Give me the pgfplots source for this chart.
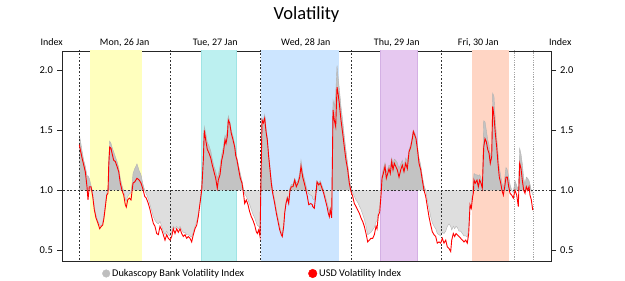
\documentclass[border=0pt]{standalone}
\usepackage{pgfplots}
\pgfplotsset{compat=1.18}
\usepackage{pgfplotstable}
\usepackage{fontspec}
\setmainfont{Carlito}
\definecolor{bandY}{RGB}{255,255,190}
\definecolor{bandC}{RGB}{188,240,240}
\definecolor{bandCb}{RGB}{160,228,228}
\definecolor{bandB}{RGB}{204,229,255}
\definecolor{bandP}{RGB}{230,200,240}
\definecolor{bandPb}{RGB}{212,176,228}
\definecolor{bandO}{RGB}{255,213,196}
\definecolor{gdark}{RGB}{195,195,195}
\definecolor{glight}{RGB}{222,222,222}
\definecolor{gline}{RGB}{178,178,178}
\definecolor{gdot}{RGB}{165,165,165}
\definecolor{legg}{RGB}{190,190,190}
\pgfplotstableread{
h r g
0.00 1.38 1.46
0.26 1.34 1.42
0.72 1.27 1.33
1.17 1.21 1.25
1.59 1.155 1.20
2.04 1.03 1.12
2.30 0.92 1.12
2.65 1.03 1.10
3.10 1.03 1.04
3.55 0.95 0.97
3.97 0.84 0.86
4.42 0.77 0.79
4.95 0.725 0.74
5.40 0.68 0.71
5.83 0.70 0.70
6.20 0.71 0.73
6.54 0.77 0.79
6.89 0.86 0.88
7.26 0.96 0.97
7.60 0.975 1.02
7.79 1.20 1.25
8.05 1.36 1.41
8.40 1.35 1.39
8.66 1.31 1.36
9.11 1.25 1.32
9.54 1.24 1.28
9.99 1.20 1.24
10.44 1.155 1.19
10.86 1.06 1.10
11.31 1.00 1.04
11.76 0.96 0.99
12.19 0.88 0.93
12.45 0.86 0.91
12.82 0.92 0.95
13.25 0.935 0.97
13.70 0.92 0.98
13.96 0.99 1.05
14.23 1.06 1.14
14.68 1.07 1.18
15.28 1.10 1.22
15.89 1.085 1.16
16.34 1.06 1.13
16.79 1.017 1.06
17.32 0.95 1.00
17.75 0.935 0.97
18.28 0.89 0.93
18.73 0.84 0.88
19.18 0.78 0.83
19.60 0.725 0.78
20.05 0.70 0.75
20.50 0.64 0.73
20.93 0.63 0.72
21.38 0.70 0.74
21.83 0.67 0.70
22.25 0.63 0.66
22.70 0.585 0.63
23.15 0.63 0.66
23.58 0.60 0.63
24.03 0.585 0.62
24.48 0.615 0.65
24.90 0.68 0.70
25.35 0.64 0.68
25.80 0.68 0.70
26.23 0.65 0.68
26.68 0.68 0.70
27.13 0.64 0.67
27.55 0.615 0.65
28.00 0.63 0.65
28.45 0.60 0.63
28.87 0.615 0.63
29.32 0.60 0.62
29.77 0.57 0.61
30.20 0.63 0.65
30.65 0.68 0.70
31.10 0.71 0.74
31.52 0.78 0.80
31.97 0.89 0.90
32.42 1.00 1.02
32.85 1.25 1.30
33.11 1.50 1.53
33.48 1.42 1.48
33.91 1.34 1.40
34.36 1.31 1.37
34.81 1.27 1.33
35.23 1.21 1.26
35.68 1.155 1.20
36.13 1.10 1.16
36.56 1.017 1.10
36.82 1.085 1.13
37.27 1.13 1.20
37.72 1.25 1.30
38.15 1.31 1.36
38.60 1.42 1.46
38.86 1.39 1.44
39.21 1.45 1.50
39.47 1.585 1.62
39.84 1.56 1.58
40.26 1.475 1.50
40.72 1.42 1.45
41.17 1.36 1.38
41.43 1.29 1.33
41.78 1.25 1.27
42.23 1.17 1.20
42.65 1.10 1.14
43.10 1.06 1.08
43.55 0.96 1.00
43.81 0.89 0.97
44.24 0.92 0.95
44.69 0.88 0.92
45.14 0.82 0.88
45.56 0.78 0.84
46.01 0.75 0.80
46.46 0.71 0.77
46.89 0.655 0.73
47.15 0.64 0.71
47.52 0.67 0.70
47.87 0.615 0.68
48.21 1.225 1.25
48.40 1.585 1.60
48.74 1.56 1.58
49.11 1.60 1.63
49.46 1.49 1.52
49.80 1.42 1.44
50.17 1.28 1.30
50.52 1.17 1.19
50.86 1.06 1.09
51.23 0.975 1.00
51.76 0.89 0.92
52.19 0.81 0.84
52.64 0.74 0.77
53.09 0.67 0.70
53.51 0.63 0.65
53.77 0.615 0.63
54.15 0.70 0.72
54.41 0.81 0.82
54.75 0.89 0.90
55.10 0.935 0.95
55.47 0.89 0.92
55.81 1.00 1.02
56.16 1.03 1.05
56.61 1.03 1.05
57.06 1.085 1.10
57.48 1.03 1.06
57.93 1.06 1.08
58.38 1.11 1.14
58.73 1.20 1.25
59.18 1.11 1.15
59.60 1.06 1.10
60.05 1.00 1.04
60.40 0.95 1.00
60.77 0.88 0.97
61.30 0.89 0.96
61.72 0.88 0.95
61.83 0.865 0.93
62.25 0.85 0.92
62.70 0.975 1.00
62.97 1.07 1.08
63.42 1.045 1.06
63.84 1.06 1.08
64.29 1.017 1.04
64.74 0.975 1.00
65.17 0.92 0.95
65.62 0.865 0.90
65.96 0.81 0.86
66.23 0.78 0.82
66.49 0.835 0.86
66.86 0.77 0.80
67.21 1.67 1.75
67.55 1.585 1.70
67.92 1.53 1.80
68.27 1.86 2.04
68.53 1.81 1.95
68.87 1.725 1.85
69.32 1.585 1.70
69.77 1.475 1.58
70.20 1.36 1.45
70.65 1.25 1.33
71.10 1.17 1.22
71.52 1.06 1.10
71.97 0.99 1.02
72.42 0.95 0.98
72.85 0.89 0.95
73.30 0.865 0.92
73.75 0.835 0.90
74.17 0.81 0.87
74.62 0.77 0.84
75.07 0.74 0.80
75.50 0.70 0.76
75.95 0.64 0.70
76.40 0.57 0.63
76.82 0.585 0.64
77.27 0.60 0.65
77.72 0.60 0.67
78.15 0.63 0.69
78.60 0.70 0.74
78.86 0.68 0.74
79.21 0.79 0.82
79.58 0.82 0.86
79.92 0.96 0.98
80.19 1.10 1.13
80.53 1.14 1.18
80.98 1.20 1.23
81.33 1.10 1.15
81.69 1.14 1.18
82.04 1.18 1.21
82.38 1.14 1.20
82.75 1.24 1.27
83.10 1.17 1.22
83.44 1.225 1.26
83.81 1.20 1.25
84.24 1.17 1.23
84.69 1.11 1.18
85.14 1.17 1.22
85.56 1.21 1.25
86.01 1.155 1.20
86.46 1.225 1.27
86.89 1.18 1.24
87.34 1.32 1.34
87.79 1.36 1.38
88.21 1.43 1.45
88.48 1.49 1.50
88.85 1.46 1.48
89.19 1.43 1.45
89.54 1.35 1.38
89.99 1.225 1.27
90.44 1.17 1.21
90.86 1.085 1.12
91.31 1.00 1.04
91.76 0.95 1.00
92.19 0.865 0.92
92.63 0.78 0.85
93.09 0.71 0.78
93.51 0.655 0.73
93.96 0.63 0.70
94.41 0.615 0.68
94.83 0.56 0.64
95.28 0.57 0.63
95.73 0.56 0.62
96.16 0.60 0.65
96.61 0.56 0.64
97.06 0.585 0.66
97.48 0.53 0.70
97.93 0.515 0.72
98.38 0.49 0.70
98.65 0.585 0.67
99.07 0.64 0.70
99.44 0.615 0.68
99.79 0.64 0.70
100.13 0.63 0.69
100.58 0.615 0.66
101.03 0.60 0.66
101.46 0.585 0.64
101.91 0.57 0.62
102.36 0.585 0.62
102.78 0.56 0.61
103.15 0.64 0.68
103.50 0.88 0.86
103.84 0.85 0.88
104.21 0.95 1.00
104.37 0.975 1.08
104.56 1.085 1.14
104.90 1.06 1.13
105.35 1.085 1.13
105.70 1.03 1.12
106.07 1.085 1.13
106.41 1.06 1.10
106.75 1.017 1.06
107.13 1.36 1.58
107.47 1.43 1.57
107.82 1.405 1.50
108.19 1.34 1.42
108.53 1.31 1.38
108.87 1.225 1.27
109.24 1.28 1.35
109.51 1.70 1.81
109.85 1.615 1.78
110.20 1.475 1.58
110.57 1.36 1.44
110.91 1.225 1.32
111.26 1.11 1.19
111.63 1.06 1.12
111.97 1.00 1.06
112.32 0.96 1.02
112.69 1.03 1.10
113.03 1.11 1.19
113.38 1.11 1.17
113.75 1.03 1.11
114.09 0.975 1.05
114.54 0.96 1.00
114.97 0.935 0.98
115.42 1.00 1.08
115.87 0.96 1.04
116.29 0.865 1.00
116.66 1.225 1.35
117.01 1.18 1.30
117.35 1.085 1.22
117.72 1.00 1.10
118.07 0.975 1.05
118.41 1.03 1.11
118.78 1.00 1.10
119.13 1.03 1.08
119.39 0.96 1.05
119.74 0.92 1.00
120.11 0.835 0.96
}\voldata
\begin{document}
\begin{tikzpicture}
\path[use as bounding box] (0,0) rectangle (625pt,281pt);
\begin{axis}[
  scale only axis,
  width=489pt, height=210pt,
  at={(62pt,20pt)}, anchor=south west,
  xmin=-4.583, xmax=124.95,
  ymin=0.411, ymax=2.161,
  xtick=\empty,
  ytick={0.5,1.0,1.5,2.0},
  ytick pos=left,
  tick align=outside,
  major tick length=5pt,
  yticklabel style={font=\fontsize{10.5}{12}\selectfont, xshift=-0.5pt},
  /pgf/number format/.cd, fixed, fixed zerofill, precision=1, assume math mode=true,
  /pgfplots/.cd,
  axis line style={black!85, line width=0.9pt},
  every tick/.style={black!85, line width=0.6pt},
  legend style={draw=none, fill=none, at={(axis description cs:0,0)}, anchor=west,
    xshift=40pt, yshift=-12.5pt, legend columns=2, inner sep=0pt,
    font=\fontsize{10.3}{12}\selectfont,
    /tikz/column 2/.style={column sep=62pt}},
  legend cell align=left,
]
\addlegendimage{legend image code/.code={\fill[legg] (4pt,0pt) circle (3.8pt);}}
\addlegendentry{Dukascopy Bank Volatility Index}
\addlegendimage{legend image code/.code={\fill[red] (4pt,0pt) circle (4.3pt);}}
\addlegendentry{USD Volatility Index}
% sessions
\addplot[fill=bandY, draw=none, forget plot] coordinates {(2.83,0.3) (16.53,0.3) (16.53,2.3) (2.83,2.3)} -- cycle;
\addplot[fill=bandC, draw=bandCb, line width=0.5pt, forget plot] coordinates {(32.24,0.3) (41.70,0.3) (41.70,2.3) (32.24,2.3)} -- cycle;
\addplot[fill=bandB, draw=none, forget plot] coordinates {(48.13,0.3) (68.87,0.3) (68.87,2.3) (48.13,2.3)} -- cycle;
\addplot[fill=bandP, draw=bandPb, line width=0.5pt, forget plot] coordinates {(79.60,0.3) (89.45,0.3) (89.45,2.3) (79.60,2.3)} -- cycle;
\addplot[fill=bandO, draw=none, forget plot] coordinates {(104.0,0.3) (113.75,0.3) (113.75,2.3) (104.0,2.3)} -- cycle;
% gray index area: above and below the 1.0 level
\addplot[fill=gdark, draw=none, forget plot] table[x=h, y expr={max(\thisrow{g},1)}] {\voldata} -- (axis cs:120.11,1) -- (axis cs:0,1) -- cycle;
\addplot[fill=glight, draw=none, forget plot] table[x=h, y expr={min(\thisrow{g},1)}] {\voldata} -- (axis cs:120.11,1) -- (axis cs:0,1) -- cycle;
\addplot[gline, line width=0.4pt, forget plot] table[x=h, y=g] {\voldata};
% reference lines
\addplot[black!80, dash pattern=on 1.8pt off 1.8pt, line width=0.5pt, forget plot] coordinates {(-10,1) (130,1)};
\addplot[black!80, dash pattern=on 1.8pt off 1.8pt, line width=0.5pt, forget plot] coordinates {(0,0.3) (0,2.3)};
\addplot[black!80, dash pattern=on 1.8pt off 1.8pt, line width=0.5pt, forget plot] coordinates {(24,0.3) (24,2.3)};
\addplot[black!80, dash pattern=on 1.8pt off 1.8pt, line width=0.5pt, forget plot] coordinates {(48,0.3) (48,2.3)};
\addplot[black!80, dash pattern=on 1.8pt off 1.8pt, line width=0.5pt, forget plot] coordinates {(72,0.3) (72,2.3)};
\addplot[black!80, dash pattern=on 1.8pt off 1.8pt, line width=0.5pt, forget plot] coordinates {(96,0.3) (96,2.3)};
\addplot[gdot, line width=1pt, dash pattern=on 1.2pt off 1.2pt, forget plot] coordinates {(115.15,0.3) (115.15,2.3)};
\addplot[gdot, line width=1pt, dash pattern=on 1.2pt off 1.2pt, forget plot] coordinates {(120.2,0.3) (120.2,2.3)};
% USD index
\addplot[red, line width=0.9pt, forget plot] table[x=h, y=r] {\voldata};
\end{axis}
\begin{axis}[
  scale only axis,
  width=489pt, height=210pt,
  at={(62pt,20pt)}, anchor=south west,
  xmin=-4.583, xmax=124.95,
  ymin=0.411, ymax=2.161,
  axis x line=none,
  axis y line*=right,
  ytick={0.5,1.0,1.5,2.0},
  ytick pos=right,
  tick align=outside,
  major tick length=5pt,
  yticklabel style={font=\fontsize{10.5}{12}\selectfont, xshift=0.5pt},
  /pgf/number format/.cd, fixed, fixed zerofill, precision=1, assume math mode=true,
  /pgfplots/.cd,
  axis line style={black!85, line width=0.9pt},
  every tick/.style={black!85, line width=0.6pt},
]
\addplot[draw=none] coordinates {(0,1) (100,1.5)};
\end{axis}
\node[anchor=base, font=\fontsize{18.5}{22}\selectfont] at (306.5pt,261pt) {Volatility};
\begin{scope}[every node/.style={anchor=base, font=\fontsize{10}{12}\selectfont}]
\node at (51.7pt,235pt) {Index};
\node at (560.3pt,235pt) {Index};
\node at (124.7pt,235pt) {Mon, 26 Jan};
\node at (215.2pt,235pt) {Tue, 27 Jan};
\node at (305.8pt,235pt) {Wed, 28 Jan};
\node at (396.8pt,235pt) {Thu, 29 Jan};
\node at (478.3pt,235pt) {Fri, 30 Jan};
\end{scope}
\end{tikzpicture}
\end{document}
